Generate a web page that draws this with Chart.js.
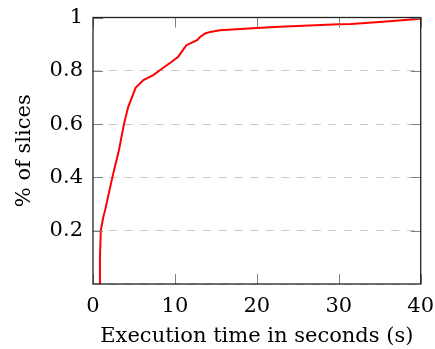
<!DOCTYPE html>
<html>
<head>
<meta charset="utf-8">
<script src="https://cdn.jsdelivr.net/npm/chart.js@4.4.0/dist/chart.umd.min.js"></script>
<style>
  html, body { margin: 0; padding: 0; background: #fff; }
  #wrap { width: 435px; height: 349px; }
</style>
</head>
<body>
<div id="wrap"><canvas id="cdf"></canvas></div>
<script>
const execTimes = [0.75, 0.85, 0.95, 1.25, 1.5, 2.36, 3.17, 3.4, 3.78, 4.3, 5.2, 6.15, 7.36, 8.2, 9.6, 10.4, 11.4, 12.7, 13.1, 13.7, 14.3, 15.5, 17.5, 20, 22.8, 30, 31.5, 35.4, 40];
const sliceShare = [0, 0.1, 0.2, 0.25, 0.28, 0.4, 0.503, 0.54, 0.6, 0.665, 0.736, 0.765, 0.784, 0.803, 0.834, 0.853, 0.896, 0.915, 0.928, 0.94, 0.946, 0.952, 0.956, 0.961, 0.965, 0.975, 0.976, 0.984, 0.995];
const xTicks = [0, 10, 20, 30, 40];
const yTicks = [0.2, 0.4, 0.6, 0.8, 1];

const FONT = "'DejaVu Serif', serif";

// pgfplots style frame with inward ticks
const frameTicks = {
  id: "frameTicks",
  afterDraw(chart) {
    const { ctx, chartArea: a, scales } = chart;
    ctx.save();
    ctx.strokeStyle = "#808080";
    ctx.lineWidth = 1;
    xTicks.forEach(v => {
      const px = Math.round(scales.x.getPixelForValue(v)) + 0.5;
      ctx.beginPath();
      ctx.moveTo(px, a.bottom); ctx.lineTo(px, a.bottom - 10);
      ctx.moveTo(px, a.top); ctx.lineTo(px, a.top + 10);
      ctx.stroke();
    });
    yTicks.forEach(v => {
      const py = Math.round(scales.y.getPixelForValue(v)) + 0.5;
      ctx.beginPath();
      ctx.moveTo(a.left, py); ctx.lineTo(a.left + 10, py);
      ctx.moveTo(a.right, py); ctx.lineTo(a.right - 10, py);
      ctx.stroke();
    });
    ctx.strokeStyle = "#222";
    ctx.lineWidth = 1.3;
    ctx.strokeRect(a.left, a.top, a.right - a.left, a.bottom - a.top);
    ctx.restore();
  }
};

new Chart(document.getElementById("cdf"), {
  type: "line",
  data: {
    datasets: [{
      data: execTimes.map((t, i) => ({ x: t, y: sliceShare[i] })),
      borderColor: "#ff0000",
      borderWidth: 2,
      pointRadius: 0,
      tension: 0,
      fill: false
    }]
  },
  options: {
    responsive: true,
    maintainAspectRatio: false,
    animation: false,
    layout: { padding: 0 },
    plugins: { legend: { display: false }, tooltip: { enabled: false } },
    scales: {
      x: {
        type: "linear",
        min: 0,
        max: 40,
        afterBuildTicks: s => { s.ticks = xTicks.map(v => ({ value: v })); },
        afterFit: s => { s.height = 65; s.paddingLeft = 0; s.paddingRight = 14.3; },
        grid: { display: false, drawTicks: false },
        border: { display: false },
        ticks: { color: "#000", padding: 10, maxRotation: 0, font: { family: FONT, size: 21 } },
        title: {
          display: true,
          text: "Execution time in seconds (s)",
          color: "#000",
          padding: { top: 4, bottom: 0 },
          font: { family: FONT, size: 21 }
        }
      },
      y: {
        min: 0,
        max: 1,
        afterBuildTicks: s => { s.ticks = [0].concat(yTicks).map(v => ({ value: v })); },
        afterFit: s => { s.width = 93; s.paddingTop = 17.5; s.paddingBottom = 0; },
        grid: { color: "#c8c8c8", lineWidth: 1, drawTicks: false },
        border: { display: false, dash: [8, 7.7] },
        ticks: {
          color: "#000",
          padding: 10,
          font: { family: FONT, size: 21 },
          callback: v => (v === 0 ? "" : String(v))
        },
        title: {
          display: true,
          text: "% of slices",
          color: "#000",
          padding: { top: 12, bottom: 0 },
          font: { family: FONT, size: 21 }
        }
      }
    }
  },
  plugins: [frameTicks]
});
</script>
</body>
</html>
